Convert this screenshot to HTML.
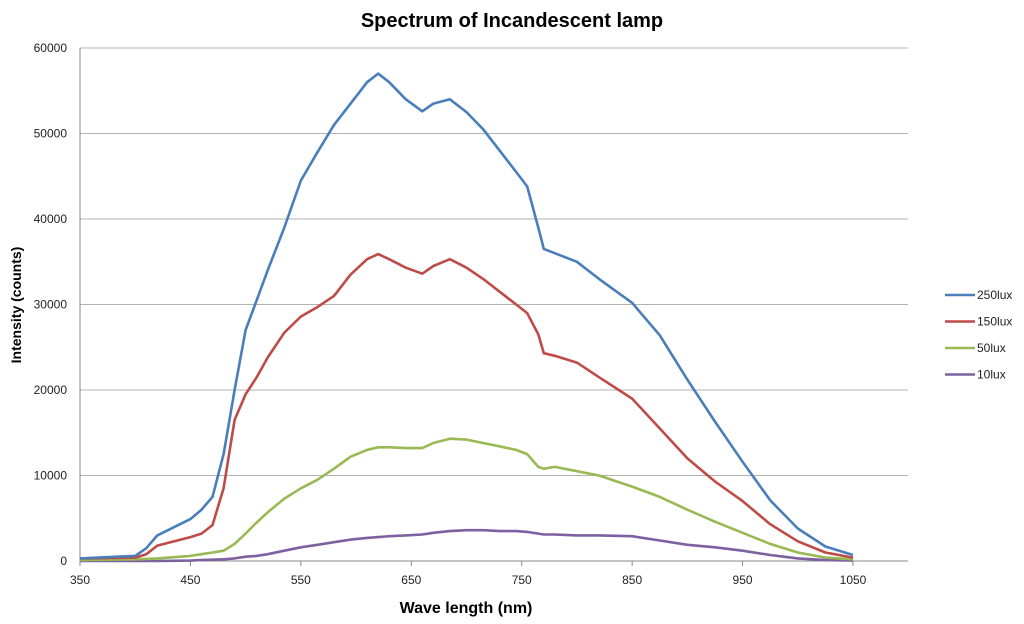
<!DOCTYPE html>
<html><head><meta charset="utf-8"><style>
body{margin:0;background:#fff;}
svg{display:block;font-family:"Liberation Sans",Arial,sans-serif;}
</style></head><body>
<svg id="chart" width="1024" height="624">
<text x="512" y="27" text-anchor="middle" font-size="20" font-weight="bold" fill="#000">Spectrum of Incandescent lamp</text>
<g id="grid"></g>
<g id="axes"></g>
<g id="series"></g>
<text x="466" y="613" text-anchor="middle" font-size="16" font-weight="bold" fill="#000">Wave length (nm)</text>
<text transform="translate(21,305) rotate(-90)" text-anchor="middle" font-size="14" font-weight="bold" fill="#000">Intensity (counts)</text>
<g id="legend"></g>
</svg>
<script>
const wavelengths=[350,400,410,420,450,460,470,480,490,500,510,520,535,550,565,580,595,610,620,630,645,660,670,685,700,715,730,745,755,765,770,780,800,820,850,875,900,925,950,975,1000,1025,1050];
const lux250=[300,600,1500,3000,4900,6000,7500,12500,20000,27000,30500,34000,39000,44500,47800,51000,53500,56000,57000,56000,54000,52600,53500,54000,52500,50500,48000,45500,43800,39000,36500,36000,35000,33000,30200,26400,21200,16300,11600,7100,3800,1700,700];
const lux150=[300,400,800,1800,2800,3200,4200,8500,16500,19500,21500,23800,26700,28600,29700,31000,33500,35300,35900,35300,34300,33600,34500,35300,34300,33000,31500,30000,29000,26500,24300,24000,23200,21500,19000,15500,12000,9300,7000,4300,2300,1000,400];
const lux50=[100,200,250,300,600,800,1000,1200,2000,3200,4500,5700,7300,8500,9500,10800,12200,13000,13300,13300,13200,13200,13800,14300,14200,13800,13400,13000,12500,11000,10800,11000,10500,10000,8700,7500,6000,4600,3300,2000,1000,400,200];
const lux10=[0,0,0,0,50,100,150,200,300,500,600,800,1200,1600,1900,2200,2500,2700,2800,2900,3000,3100,3300,3500,3600,3600,3500,3500,3400,3200,3100,3100,3000,3000,2900,2400,1900,1600,1200,700,300,100,50];
const xTicks=[350,450,550,650,750,850,950,1050];
const yTicks=[0,10000,20000,30000,40000,50000,60000];
const seriesNames=['250lux','150lux','50lux','10lux'];
const seriesColors=['#4a7ebb','#be4b48','#98b954','#7d60a0'];
const seriesData=[lux250,lux150,lux50,lux10];

const X0=80,XR=908,Y0=561,YT=48;
const xs=w=>X0+(w-350)*(853-80)/700;
const ys=v=>Y0-v*(Y0-YT)/60000;
const NS='http://www.w3.org/2000/svg';
function mk(tag,attrs,parent){const e=document.createElementNS(NS,tag);for(const k in attrs)e.setAttribute(k,attrs[k]);parent.appendChild(e);return e;}
const grid=document.getElementById('grid'),axes=document.getElementById('axes'),ser=document.getElementById('series'),leg=document.getElementById('legend');
yTicks.forEach(t=>{
 const l=mk('line',{x1:X0,x2:XR,y1:ys(t),y2:ys(t),stroke:t===0?'#888':'#b3b3b3','stroke-width':1},grid);
 
 
 const tx=mk('text',{x:X0-13,y:ys(t)+4,'text-anchor':'end','font-size':12,fill:'#222'},axes);
 tx.textContent=t;
 
 
});
const ya=mk('line',{x1:X0,x2:X0,y1:YT,y2:Y0,stroke:'#888'},axes);


xTicks.forEach(t=>{
 const tk=mk('line',{x1:xs(t),x2:xs(t),y1:Y0,y2:Y0+5,stroke:'#888'},axes);
 
 
 const tx=mk('text',{x:xs(t),y:Y0+23,'text-anchor':'middle','font-size':12,fill:'#222'},axes);
 tx.textContent=t;
 
 
});
seriesData.slice().reverse().forEach((d,ri)=>{
 const i=seriesData.length-1-ri;
 const pts=d.map((v,j)=>xs(wavelengths[j]).toFixed(1)+','+ys(v).toFixed(1)).join(' ');
 const p=mk('polyline',{points:pts,fill:'none',stroke:seriesColors[i],'stroke-width':2.6,'stroke-linejoin':'round'},ser);
 
 
});
seriesNames.forEach((n,i)=>{
 const y=295+i*26.5;
 const l=mk('line',{x1:945,x2:975,y1:y,y2:y,stroke:seriesColors[i],'stroke-width':2.6},leg);
 
 
 const t=mk('text',{x:977,y:y+4,'font-size':12,fill:'#222'},leg);
 t.textContent=n;
 
 
});
</script>
</body></html>
